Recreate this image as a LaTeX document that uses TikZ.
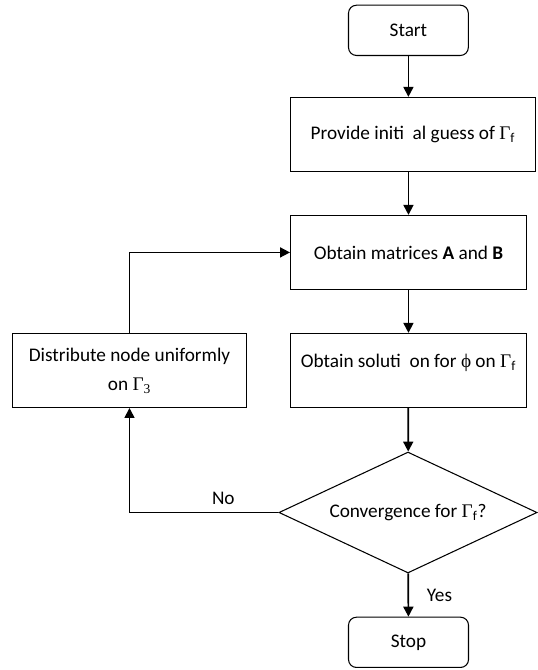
\documentclass[tikz,border=0pt]{standalone}
\usepackage{fontspec}
\setmainfont{Carlito}
\newfontfamily\grk{Liberation Serif}
\usepackage{tikz}
\usetikzlibrary{arrows.meta}
\usetikzlibrary{shapes.geometric}
\tikzset{
  box/.style={rectangle, draw=black, line width=0.8pt, fill=white, anchor=south west, minimum height=1.96cm, align=center, inner sep=2pt, font=\fontsize{14.5}{22}\selectfont},
  term/.style={box, rounded corners=6pt, minimum height=1.33cm, minimum width=3.17cm},
  flow/.style={draw=black, line width=1.3pt, -{Triangle[length=7.5pt,width=7.5pt]}},
  lbl/.style={font=\fontsize{14.5}{17}\selectfont}
}

\begin{document}
\begin{tikzpicture}

\useasboundingbox (0,0) rectangle (14.234,17.727);
%\draw[step=1cm, gray, very thin, dotted] (0,0) grid (14,17);

\node at (9.207,16.245) [term] (start) {Start};
\node at (7.673,13.176) [box, minimum width=6.48cm] (guess) {Provide initi\ \ al guess of {\grk Γ}\textsubscript{f}};
\node at (7.673,10.054) [box, minimum width=6.24cm] (matrices) {Obtain matrices \textbf{A} and \textbf{B}};
\node at (7.673,6.932) [box, minimum width=6.24cm, text depth=15pt] (solution) {Obtain soluti\ \ on for {\grk ϕ} on {\grk Γ}\textsubscript{f}};
\node at (0.317,6.932) [box, minimum width=6.19cm] (distribute) {Distribute node uniformly\\on {\grk Γ}\textsubscript{\grk 3}};
\node at (10.795,4.167) [diamond, draw=black, line width=0.8pt, fill=white, inner sep=0pt, shape aspect=2.13, minimum width=6.83cm, minimum height=3.2cm, lbl] (converge) {Convergence for {\grk Γ}\textsubscript{f}?};
\node at (9.207,0.053) [term, minimum width=3.175cm] (stop) {Stop};

\draw[flow] (start.south) -- (start.south |- guess.north);
\draw[flow] (guess.south -| matrices.north) -- (matrices.north);
\draw[flow] (matrices) -- (solution);
\draw[flow] (solution) -- (converge);
\draw[flow] (converge) -- (stop) node[lbl, midway, right=10pt] {Yes};
\draw[flow] (converge.west) -| (distribute.south) node[lbl, pos=0.185, above=2pt] {No};
\draw[flow] (distribute.north) |- (matrices.west);

\end{tikzpicture}
\end{document}
